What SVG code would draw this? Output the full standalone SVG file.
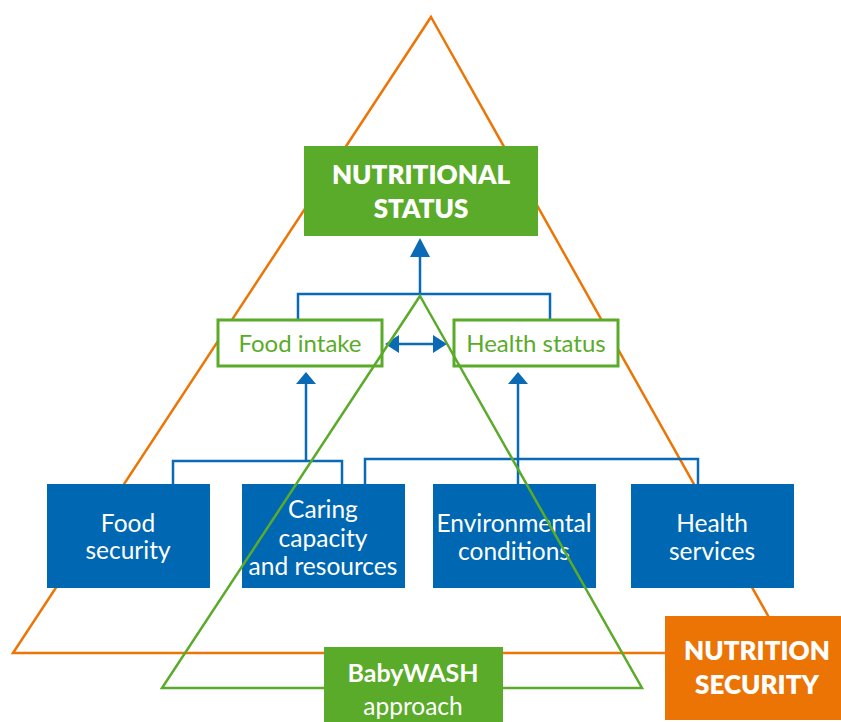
<svg xmlns="http://www.w3.org/2000/svg" width="841" height="722" viewBox="0 0 841 722">
<style>
.tri-o{fill:none;stroke:#ec7506;stroke-width:2.5;stroke-linejoin:miter}
.tri-g{fill:none;stroke:#5aab2a;stroke-width:2.5}
.conn{fill:none;stroke:#0a6ab5;stroke-width:2.5}
.head{fill:#0a6ab5}
.blue{fill:#0068b2}
.gbox{fill:#5aab2a}
.obox{fill:#eb7405}
.outline{fill:#fff;stroke:#5aab2a;stroke-width:3}
.t{font-family:Lato,"Open Sans","Liberation Sans",sans-serif;text-anchor:middle}
.wb{fill:#fff;font-weight:800;font-size:26px}
.w{fill:#fff;font-size:24.5px}
.g{fill:#5aab2a;font-size:24px}
</style>
<g id="triangles">
<polygon class="tri-o" points="431,17 789,653 13,653"/>
</g>
<g id="connectors">
<path class="conn" d="M298,320 V294 H550 V320"/>
<line class="conn" x1="420" y1="294" x2="420" y2="256"/>
<path class="head" d="M420,238 L430,257 L410,257 z"/>
<line class="conn" x1="397" y1="344" x2="436" y2="344"/>
<path class="head" d="M385,344 L399,335 L399,353 z"/>
<path class="head" d="M447,344 L433,335 L433,353 z"/>
<path class="conn" d="M173,485 V461 H342 V485"/>
<line class="conn" x1="306" y1="461" x2="306" y2="382"/>
<path class="head" d="M306,372 L316,384 L296,384 z"/>
<path class="conn" d="M365,485 V459 H698 V485"/>
<line class="conn" x1="518" y1="485" x2="518" y2="382"/>
<path class="head" d="M518,372 L528,384 L508,384 z"/>
</g>
<g id="nutritional-status">
<rect class="gbox" x="304" y="146" width="234" height="90"/>
<text class="t wb" x="421" y="184">NUTRITIONAL</text>
<text class="t wb" x="421" y="218">STATUS</text>
</g>
<g id="food-intake">
<rect class="outline" x="218" y="320" width="164" height="46"/>
<text class="t g" x="300" y="352">Food intake</text>
</g>
<g id="health-status">
<rect class="outline" x="454" y="320" width="164" height="46"/>
<text class="t g" x="536" y="352">Health status</text>
</g>
<g id="food-security">
<rect class="blue" x="47" y="484" width="163" height="104"/>
<text class="t w" x="128" y="532">Food</text>
<text class="t w" x="128" y="559">security</text>
</g>
<g id="caring-capacity">
<rect class="blue" x="242" y="484" width="163" height="104"/>
<text class="t w" x="323" y="518">Caring</text>
<text class="t w" x="323" y="547">capacity</text>
<text class="t w" x="323" y="575">and resources</text>
</g>
<g id="environmental-conditions">
<rect class="blue" x="433" y="484" width="163" height="104"/>
<text class="t w" x="514" y="532">Environmental</text>
<text class="t w" x="514" y="560">conditions</text>
</g>
<g id="health-services">
<rect class="blue" x="631" y="484" width="163" height="104"/>
<text class="t w" x="712" y="532">Health</text>
<text class="t w" x="712" y="560">services</text>
</g>
<g id="babywash-triangle">
<polygon class="tri-g" points="420,296 642,688 162,688"/>
</g>
<g id="babywash">
<rect class="gbox" x="324" y="647" width="179" height="75"/>
<text class="t" x="413" y="682" fill="#fff" font-weight="700" font-size="25">BabyWASH</text>
<text class="t w" x="413" y="715" font-size="24">approach</text>
</g>
<g id="nutrition-security">
<rect class="obox" x="665" y="616" width="176" height="104"/>
<text class="t wb" x="757" y="660">NUTRITION</text>
<text class="t wb" x="757" y="694">SECURITY</text>
</g>
</svg>
